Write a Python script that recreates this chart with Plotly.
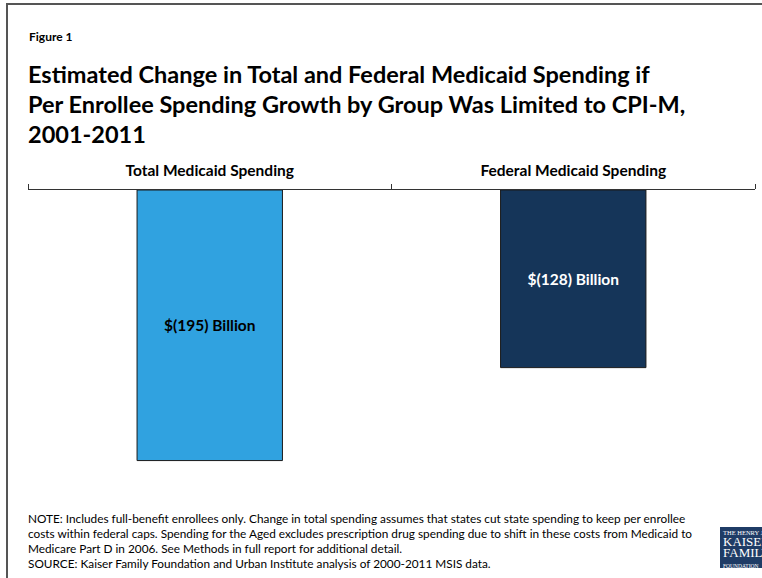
import plotly.graph_objects as go

# Data
categories = ["Total Medicaid Spending", "Federal Medicaid Spending"]
change_billions = [-195, -128]
bar_colors = ["#30a2e0", "#153559"]
label_colors = ["#000000", "#ffffff"]
bar_labels = [f"$({abs(v)}) Billion" for v in change_billions]

title_lines = [
    "Estimated Change in Total and Federal Medicaid Spending if",
    "Per Enrollee Spending Growth by Group Was Limited to CPI-M,",
    "2001-2011",
]
note_lines = [
    "NOTE: Includes full-benefit enrollees only. Change in total spending assumes that states cut state spending to keep per enrollee",
    "costs within federal caps. Spending for the Aged excludes prescription drug spending due to shift in these costs from Medicaid to",
    "Medicare Part D in 2006. See Methods in full report for additional detail.",
    "SOURCE: Kaiser Family Foundation and Urban Institute analysis of 2000-2011 MSIS data.",
]

W, H = 762, 578
ML, MR, MT, MB = 28, 7, 190, 98
PW, PH = W - ML - MR, H - MT - MB

FONT = "Lato, 'Open Sans', sans-serif"


def px_x(px):
    return (px - ML) / PW


def px_y(py):
    return (H - MB - py) / PH


def note(x, y, text, size, family=FONT, color="#000000"):
    return dict(xref="paper", yref="paper", x=px_x(x), y=px_y(y), text=text,
                showarrow=False, xanchor="left", yanchor="middle",
                font=dict(family=family, size=size, color=color))


fig = go.Figure(
    go.Bar(
        x=categories,
        y=change_billions,
        width=0.4,
        marker=dict(color=bar_colors, line=dict(color="#1a1a1a", width=1)),
        text=bar_labels,
        textposition="inside",
        insidetextanchor="middle",
        textangle=0,
        textfont=dict(family=FONT, size=15.5, color=label_colors, weight="bold"),
        hoverinfo="skip",
    )
)

annotations = [note(27, 37, "<b>Figure 1</b>", 12)]
for i, line in enumerate(title_lines):
    annotations.append(note(26, 74 + 30 * i, f"<b>{line}</b>", 23.5))
for i, line in enumerate(note_lines):
    annotations.append(note(26, 518 + 15 * i, line, 11.8))

# Foundation logo block: one multi-line label, tight line spacing
SERIF = "'Liberation Serif', serif"
logo_lines = [("THE HENRY J.", 6.5), ("KAISER", 13), ("FAMILY", 13), ("FOUNDATION", 5.5)]
logo_text = "<br>".join(
    f'<span style="font-size:{sz}px">{txt}</span>' for txt, sz in logo_lines)
annotations.append(note(721, 549, logo_text, 8.5, family=SERIF, color="#ffffff"))
annotations[-1]["align"] = "left"

shapes = [
    # outer frame
    dict(type="rect", xref="paper", yref="paper",
         x0=px_x(7), x1=px_x(800), y0=px_y(620), y1=px_y(4),
         line=dict(color="#555555", width=2), fillcolor="rgba(0,0,0,0)", layer="below"),
    # logo background
    dict(type="rect", xref="paper", yref="paper",
         x0=px_x(720), x1=px_x(800), y0=px_y(568), y1=px_y(527),
         line=dict(width=0), fillcolor="#1f3c66", layer="below"),
]

fig.update_layout(
    width=W, height=H,
    margin=dict(l=ML, r=MR, t=MT, b=MB),
    paper_bgcolor="white", plot_bgcolor="white",
    showlegend=False,
    annotations=annotations,
    shapes=shapes,
    xaxis=dict(
        side="top", showline=True, linecolor="#333333", linewidth=1,
        ticks="outside", ticklen=5, tickcolor="#333333", tickson="boundaries",
        showgrid=False, zeroline=False,
        tickfont=dict(family=FONT, size=15.5, color="#000", weight="bold"),
        ticklabelstandoff=7, fixedrange=True,
    ),
    yaxis=dict(range=[-209, 0], visible=False, fixedrange=True),
)

fig.write_html("out.html")
